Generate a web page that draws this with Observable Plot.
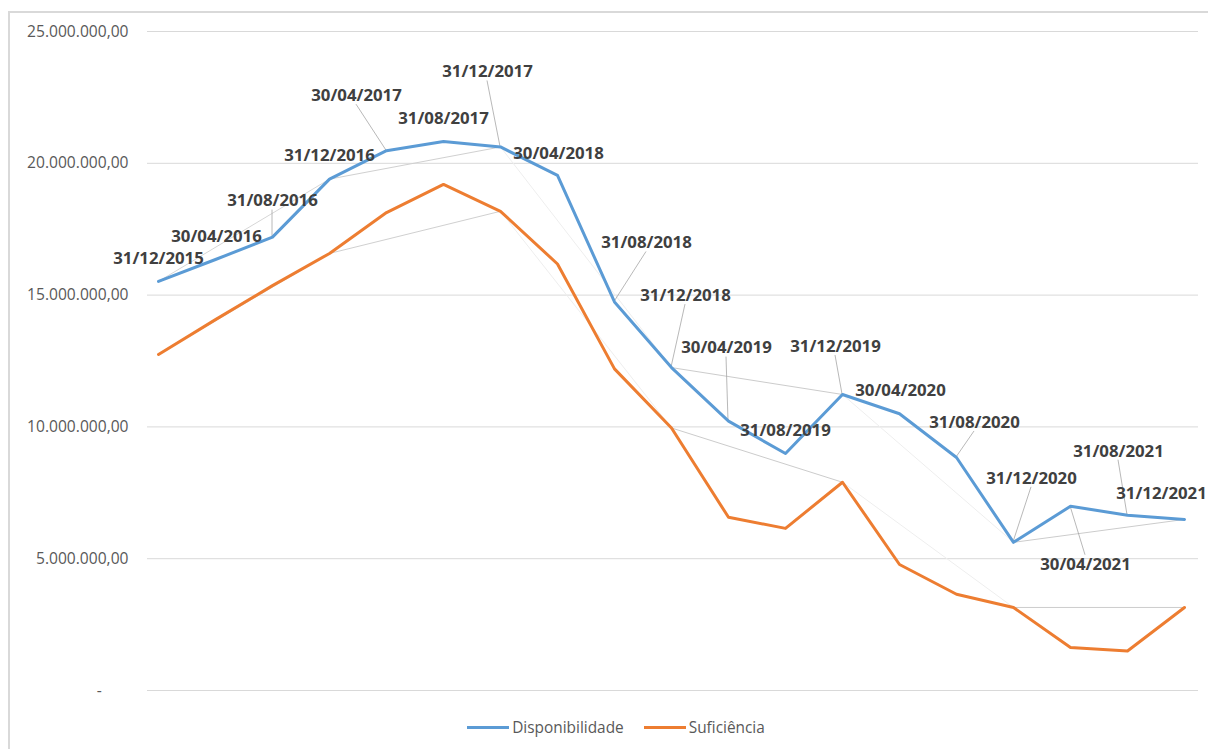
<!DOCTYPE html>
<html>
<head>
<meta charset="utf-8">
<script src="https://cdn.jsdelivr.net/npm/d3@7"></script>
<script src="https://cdn.jsdelivr.net/npm/@observablehq/plot@0.6"></script>
<style>
  html, body { margin: 0; padding: 0; background: #fff; overflow: hidden; }
  #wrap { position: relative; width: 1208px; height: 749px; font-family: "Open Sans", sans-serif; }
  #frame { position: absolute; left: 8px; top: 11px; width: 1210px; height: 750px;
           border-left: 2px solid #d9d9d9; border-top: 2px solid #d9d9d9; pointer-events: none; }
  #legend { display: flex; justify-content: center; align-items: center; height: 44px;
            font-size: 15.4px; color: #595959; padding-left: 24px; }
  .item { display: flex; align-items: center; margin: 0 10px; }
  .sw { width: 42px; height: 3px; margin-right: 3px; }
</style>
</head>
<body>
<div id="wrap">
  <div id="chart"></div>
  <div id="legend"></div>
  <div id="frame"></div>
</div>
<script>
// ---- data ----
const dates = ["31/12/2015","30/04/2016","31/08/2016","31/12/2016","30/04/2017","31/08/2017","31/12/2017",
  "30/04/2018","31/08/2018","31/12/2018","30/04/2019","31/08/2019","31/12/2019","30/04/2020",
  "31/08/2020","31/12/2020","30/04/2021","31/08/2021","31/12/2021"];
const disponibilidade = [15520000,16350000,17200000,19400000,20480000,20830000,20620000,19540000,14740000,
  12250000,10220000,8990000,11230000,10500000,8840000,5620000,6990000,6650000,6490000];
const suficiencia = [12750000,14070000,15360000,16580000,18130000,19200000,18180000,16180000,12200000,
  9960000,6570000,6150000,7900000,4780000,3650000,3150000,1630000,1500000,3150000];
const seriesNames = ["Disponibilidade", "Suficiência"];
const yTicks = [0, 5000000, 10000000, 15000000, 20000000, 25000000];

// ---- layout (label offsets in px relative to the Disponibilidade point) ----
const labelOffsets = [[0,-23],[1,-23],[0,-36],[0,-24],[-30,-55],[0,-23],[-13,-75],[1,-22],[32,-59],
  [14,-72],[-2,-73],[0,-23],[-7,-48],[1,-23],[18,-35],[18,-64],[15,58],[-9,-64],[-23,-26]];
// faint December-to-December connector shades (per segment)
const connectorShades = ["#d6d6d6", "#d0d0d0", "#eeeeee", "#cccccc", "#eeeeee", "#cccccc"];

const colors = ["#5B9BD5", "#ED7D31"];

const rows = [];
dates.forEach((d, i) => {
  rows.push({date: d, series: seriesNames[0], value: disponibilidade[i]});
  rows.push({date: d, series: seriesNames[1], value: suficiencia[i]});
});
const decIdx = dates.map((d, i) => i).filter(i => dates[i].startsWith("31/12"));
const segments = [];
[disponibilidade, suficiencia].forEach(vals => {
  for (let k = 0; k < decIdx.length - 1; k++) {
    const a = decIdx[k], b = decIdx[k + 1];
    segments.push({x1: dates[a], y1: vals[a], x2: dates[b], y2: vals[b], shade: connectorShades[k]});
  }
});

const loc = d3.formatLocale({decimal: ",", thousands: ".", grouping: [3], currency: ["R$", ""]});
const fmt = loc.format(",.2f");
const tickFmt = v => v === 0 ? "-\u2007\u2007\u2007" : fmt(v);

function leaders(index, scales) {
  const g = d3.create("svg:g").attr("stroke", "#a6a6a6").attr("stroke-width", 0.8);
  dates.forEach((d, i) => {
    const [dx, dy] = labelOffsets[i];
    if (Math.abs(dy) < 30) return;
    const px = scales.x(d), py = scales.y(disponibilidade[i]);
    const lx = px + dx, ly = py + dy + (dy < 0 ? 9 : -9);
    g.append("line").attr("x1", lx).attr("y1", ly).attr("x2", px).attr("y2", py);
  });
  return g.node();
}

const labelMarks = dates.map((d, i) => Plot.text([i], {
  x: j => dates[j], y: j => disponibilidade[j], text: j => dates[j],
  dx: labelOffsets[i][0], dy: labelOffsets[i][1],
  fontSize: 16.8, fontWeight: 700, fill: "#404040", textAnchor: "middle"
}));

const chart = Plot.plot({
  width: 1208,
  height: 705,
  marginTop: 31,
  marginBottom: 15,
  marginLeft: 147,
  marginRight: 10,
  style: {fontFamily: "Open Sans, sans-serif", background: "transparent", overflow: "visible"},
  x: {type: "point", domain: dates, range: [152, 1190], padding: 0, axis: null},
  y: {domain: [0, 25000000], ticks: yTicks, tickFormat: tickFmt, label: null, tickSize: 0, tickPadding: 19},
  color: {domain: seriesNames, range: colors},
  marks: [
    Plot.gridY(yTicks, {stroke: "#d9d9d9", strokeOpacity: 1, strokeWidth: 1}),
    Plot.axisY(yTicks, {tickFormat: tickFmt, tickSize: 0, tickPadding: 19, fontSize: 15.6, fill: "#595959", label: null}),
    Plot.link(segments, {x1: "x1", y1: "y1", x2: "x2", y2: "y2", stroke: d => d.shade, strokeWidth: 1}),
    leaders,
    Plot.line(rows, {x: "date", y: "value", z: "series", stroke: "series", strokeWidth: 3,
      strokeLinejoin: "round", strokeLinecap: "round"}),
    ...labelMarks
  ]
});
document.getElementById("chart").appendChild(chart);

const legend = document.getElementById("legend");
seriesNames.forEach((s, i) => {
  const it = document.createElement("div");
  it.className = "item";
  const sw = document.createElement("div");
  sw.className = "sw";
  sw.style.background = colors[i];
  const t = document.createElement("span");
  t.textContent = s;
  it.appendChild(sw); it.appendChild(t);
  legend.appendChild(it);
});
</script>
</body>
</html>
